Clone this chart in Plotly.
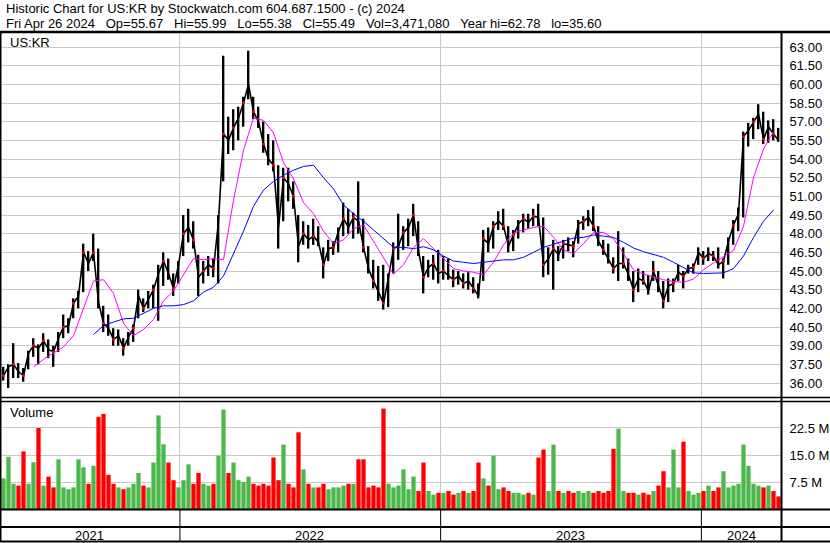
import pandas as pd
import plotly.graph_objects as go

# Weekly bars for US:KR (Apr 2021 - Apr 2024)
start = "2021-04-29"

high = [37.3, 37.5, 39.2, 37.6, 37.2, 38.6, 39.6, 39.1, 40.0, 39.5,
        39.0, 40.1, 41.5, 41.2, 42.8, 43.4, 47.2, 46.6, 48.0, 46.8,
        42.2, 41.5, 40.4, 40.3, 39.6, 40.1, 40.7, 43.5, 42.8, 43.4,
        43.9, 45.5, 46.5, 46.0, 44.8, 45.8, 49.5, 50.0, 49.0, 46.3,
        45.8, 46.2, 46.0, 49.5, 62.3, 57.4, 58.0, 58.2, 59.0, 62.7,
        59.0, 58.2, 57.0, 56.0, 55.5, 53.5, 53.3, 53.3, 52.2, 49.5,
        49.0, 48.7, 49.2, 48.6, 46.9, 47.5, 47.4, 48.5, 50.5, 50.0,
        49.7, 52.2, 49.2, 47.0, 45.9, 45.4, 45.5, 44.8, 47.3, 49.6,
        48.6, 49.2, 50.4, 49.0, 46.2, 45.9, 46.3, 46.7, 46.2, 46.0,
        45.1, 45.0, 44.8, 44.9, 44.5, 44.0, 48.3, 48.5, 49.0, 49.8,
        50.0, 48.6, 48.3, 49.1, 49.6, 49.6, 50.0, 50.4, 49.3, 46.9,
        47.5, 47.0, 47.5, 47.7, 47.4, 49.1, 49.4, 49.9, 50.2, 48.6,
        47.5, 47.2, 46.1, 48.2, 46.9, 46.0, 45.0, 45.2, 45.0, 44.7,
        45.8, 45.0, 44.2, 44.4, 44.4, 45.5, 45.0, 45.5, 45.6, 46.9,
        46.6, 46.9, 46.6, 46.9, 46.0, 47.7, 49.1, 50.1, 56.2, 56.9,
        57.3, 58.4, 57.8, 57.1, 57.2, 56.5]

low = [36.2, 35.6, 36.4, 36.4, 36.1, 37.1, 38.1, 37.5, 38.5, 38.0,
       37.3, 38.5, 39.6, 40.0, 41.2, 42.0, 43.3, 45.0, 45.8, 42.0,
       40.1, 39.8, 39.0, 39.0, 38.2, 39.0, 39.3, 41.2, 41.7, 42.0,
       42.0, 41.0, 43.8, 44.3, 43.0, 44.0, 46.2, 47.3, 46.8, 43.0,
       44.0, 44.6, 44.5, 44.0, 52.2, 54.4, 54.7, 55.5, 56.6, 58.8,
       57.2, 56.5, 54.5, 53.5, 53.0, 46.8, 49.0, 50.6, 50.0, 45.7,
       47.1, 46.8, 47.1, 47.0, 44.4, 45.8, 46.3, 46.5, 47.8, 48.0,
       47.6, 48.0, 46.5, 44.8, 43.6, 42.6, 41.9, 42.1, 44.8, 45.9,
       46.7, 47.0, 47.8, 46.2, 43.2, 44.5, 44.3, 44.0, 44.3, 44.3,
       43.7, 43.9, 43.6, 43.5, 43.2, 42.8, 44.2, 46.5, 46.8, 48.3,
       48.3, 46.5, 46.6, 47.6, 48.1, 48.4, 48.6, 48.6, 44.5, 44.7,
       43.5, 45.8, 46.0, 46.6, 46.1, 47.2, 48.3, 48.6, 48.2, 47.0,
       46.3, 45.6, 44.8, 44.2, 45.2, 44.2, 42.5, 43.3, 43.9, 43.1,
       44.2, 43.3, 42.0, 42.5, 43.3, 44.2, 43.6, 44.8, 44.8, 45.5,
       45.5, 45.8, 45.8, 45.2, 44.4, 45.5, 47.1, 48.2, 49.3, 55.0,
       55.6, 56.4, 55.2, 55.3, 55.5, 55.38]

close = [36.6, 37.3, 37.5, 36.9, 36.6, 38.4, 39.0, 38.8, 39.4, 38.7,
         38.5, 39.6, 40.5, 40.6, 42.4, 43.0, 46.5, 45.6, 46.5, 42.5,
         40.8, 40.4, 39.5, 39.8, 38.8, 39.7, 40.4, 43.0, 42.0, 42.8,
         43.5, 44.8, 45.8, 44.8, 43.6, 45.5, 48.0, 48.5, 47.5, 44.5,
         45.0, 45.5, 45.2, 49.0, 56.0, 55.5, 56.5, 57.3, 58.5, 60.0,
         57.8, 57.0, 55.2, 54.0, 53.5, 48.5, 52.5, 52.0, 51.0, 47.0,
         48.0, 47.5, 47.8, 47.3, 45.5, 46.8, 46.9, 48.2, 49.2, 48.5,
         49.3, 49.0, 46.9, 45.2, 44.2, 43.3, 42.4, 44.5, 46.8, 47.0,
         48.1, 48.5, 49.5, 46.6, 44.5, 45.3, 45.6, 44.8, 45.0, 44.6,
         44.3, 44.6, 44.0, 44.2, 43.6, 43.0, 47.6, 47.2, 48.6, 49.0,
         48.6, 47.0, 47.9, 48.8, 49.2, 48.9, 49.4, 49.3, 45.5, 46.0,
         46.8, 46.3, 47.2, 47.1, 47.0, 48.8, 49.0, 49.3, 48.6, 47.4,
         46.7, 46.0, 45.2, 45.6, 45.6, 44.7, 43.5, 44.4, 44.2, 43.4,
         45.0, 43.8, 42.6, 43.8, 44.0, 44.9, 44.6, 45.2, 45.3, 46.5,
         46.0, 46.4, 46.2, 45.5, 45.8, 47.4, 48.7, 49.6, 55.8, 56.3,
         57.0, 57.6, 55.6, 56.6, 56.0, 55.49]

# volume in millions of shares
volume = [8.5, 14.5, 7, 6.5, 16, 7, 13, 22.5, 6.5, 9,
          6, 13.8, 6, 5.5, 6, 13.8, 11.6, 7, 12, 25.6,
          26.4, 9.5, 7, 6, 5.5, 6, 7, 10, 6.5, 6,
          12.9, 26, 18, 12.9, 8, 6, 8, 12.4, 7, 10,
          7, 6.5, 7, 14.8, 27.6, 10, 12.9, 8, 7.5, 9,
          7, 6.5, 7, 6.5, 14.3, 8, 17.9, 7, 6, 21.3,
          11, 7, 6, 6, 7, 5.5, 6, 6, 6.5, 7,
          7, 13.8, 13.8, 6, 6.5, 6, 27.9, 7, 6, 6.5,
          11, 5.5, 9, 5, 12.9, 5, 4, 4.5, 4.5, 5,
          4, 4.5, 5, 4.5, 5, 12.9, 8.5, 6.5, 14.8, 5.5,
          6, 5, 4.5, 4.5, 4, 4.5, 4, 14.3, 16.5, 5,
          17.9, 5, 4.5, 5, 4.5, 5, 4.5, 5, 4.5, 5,
          4.5, 5, 16.7, 22.3, 5, 4.5, 4.5, 4, 4.5, 4,
          5, 6.5, 10.5, 6, 16.5, 6, 18.7, 5, 4, 4.5,
          5, 6.5, 5, 6, 10.5, 6, 6.5, 7, 17.9, 12,
          7, 6.5, 6, 6.5, 5, 3.5]

# moving averages read every second week (magenta from week 6, blue from week 18)
ma_fast = [37.3, 37.9, 38.4, 38.9, 39.8, 42.0, 44.2, 44.3, 43.2, 40.8,
           39.8, 40.3, 41.1, 42.6, 43.4, 44.7, 46.0, 45.9, 46.0, 45.9,
           50.7, 54.7, 57.3, 57.1, 56.1, 53.7, 52.4, 50.5, 49.6, 48.2,
           47.2, 47.5, 48.4, 48.7, 47.4, 46.1, 44.75, 45.5, 46.9, 47.6,
           46.8, 46.0, 45.2, 45.0, 44.9, 44.7, 45.7, 47.1, 48.05, 48.3,
           48.5, 48.6, 47.7, 46.7, 46.4, 47.2, 48.1, 48.1, 47.6, 46.4,
           45.1, 44.75, 44.5, 44.3, 44.15, 44.1, 44.35, 45.1, 45.65, 46.15,
           46.65, 48.6, 52.5, 54.8, 56.2]

ma_slow = [39.9, 40.6, 40.9, 41.15, 41.2, 41.6, 42.0, 42.2, 42.2, 42.3,
           42.6, 43.3, 43.7, 44.6, 46.4, 48.2, 50.2, 51.5, 52.2, 52.7,
           53.1, 53.4, 53.5, 52.5, 51.6, 50.3, 49.6, 49.0, 48.3, 47.6,
           46.9, 46.9, 46.8, 46.95, 46.7, 46.2, 45.8, 45.7, 45.6, 45.7,
           45.8, 45.9, 45.9, 46.1, 46.5, 46.9, 47.15, 47.4, 47.65, 47.7,
           47.9, 47.8, 47.7, 47.3, 46.85, 46.55, 46.3, 46.1, 45.7, 45.3,
           44.85, 44.8, 44.8, 44.85, 45.2, 46.2, 47.7, 49.0, 49.9]

price_ticks = [36.0, 37.5, 39.0, 40.5, 42.0, 43.5, 45.0, 46.5, 48.0, 49.5,
               51.0, 52.5, 54.0, 55.5, 57.0, 58.5, 60.0, 61.5, 63.0]
vol_ticks = [7.5, 15.0, 22.5]
vol_labels = ["7.5 M", "15.0 M", "22.5 M"]
years = ["2021", "2022", "2023", "2024"]
year_mids = ["2021-08-28", "2022-07-02", "2023-07-02", "2024-02-26"]
year_starts = ["2022-01-01", "2023-01-01", "2024-01-01"]

title = "Historic Chart for US:KR by Stockwatch.com 604.687.1500 - (c) 2024"
quote = ["Fri Apr 26 2024", "Op=55.67", "Hi=55.99", "Lo=55.38", "Cl=55.49",
         "Vol=3,471,080", "Year hi=62.78", "lo=35.60"]

W, H = 830, 543
FONT = "Liberation Sans, Arial, sans-serif"


def px(x):
    return x / W


def py(y):
    return 1 - y / H


dates = pd.date_range(start, periods=len(close), freq="7D")
day = pd.Timedelta(days=1)
x_range = [dates[0] - 3.5 * day, dates[-1] + 3.5 * day]
ms_day = 86400000

vol_colors = ["#4cb84c"]
for i in range(1, len(close)):
    vol_colors.append("#4cb84c" if close[i] >= close[i - 1] else "#ff0000")

fig = go.Figure()

# price: high-low bars joined by the close path, so it reads like the daily scribble
fig.add_trace(go.Bar(x=dates, base=low, y=[h - l for h, l in zip(high, low)],
                     width=2.4 * ms_day, marker=dict(color="black", line_width=0),
                     xaxis="x", yaxis="y"))
fig.add_trace(go.Scatter(x=dates, y=close, mode="lines",
                         line=dict(color="black", width=1.6),
                         xaxis="x", yaxis="y"))
fig.add_trace(go.Scatter(x=dates[::2], y=close[::2], mode="markers",
                         marker=dict(color="red", size=2.5, symbol="square"),
                         xaxis="x", yaxis="y"))
fig.add_trace(go.Scatter(x=dates[6::2], y=ma_fast, mode="lines",
                         line=dict(color="#ff00ff", width=1), xaxis="x", yaxis="y"))
fig.add_trace(go.Scatter(x=dates[18::2], y=ma_slow, mode="lines",
                         line=dict(color="#0000ff", width=1), xaxis="x", yaxis="y"))

# volume
fig.add_trace(go.Bar(x=dates, y=volume, width=6.0 * ms_day,
                     marker=dict(color=vol_colors, line_width=0),
                     xaxis="x", yaxis="y2"))

grid = "#c8c8c8"
tickfont = dict(family=FONT, size=13, color="black")

fig.update_layout(
    width=W, height=H, margin=dict(l=0, r=0, t=0, b=0),
    paper_bgcolor="white", plot_bgcolor="white", showlegend=False,
    xaxis=dict(type="date", domain=[px(1), px(781)], range=x_range,
               tickvals=year_starts, showticklabels=False, ticks="",
               showgrid=True, gridcolor=grid, gridwidth=1, zeroline=False,
               anchor="y2"),
    yaxis=dict(domain=[py(397), py(32)], range=[34.875, 64.205], side="right",
               anchor="x", tickvals=price_ticks, tickformat=".2f",
               ticks="outside", ticklen=5, tickcolor="rgba(0,0,0,0)",
               showgrid=True, gridcolor=grid, zeroline=False, tickfont=tickfont),
    yaxis2=dict(domain=[py(509), py(402)], range=[0, 29.72], side="right",
                anchor="x", tickvals=vol_ticks, ticktext=vol_labels,
                ticks="outside", ticklen=5, tickcolor="rgba(0,0,0,0)",
                showgrid=True, gridcolor=grid, zeroline=False, tickfont=tickfont),
)


# frame lines
def hline(y, w=1.5):
    fig.add_shape(type="line", xref="paper", yref="paper", x0=0, x1=1,
                  y0=py(y), y1=py(y), line=dict(color="black", width=w))


def vline(x, y0, y1, w=1.5):
    fig.add_shape(type="line", xref="paper", yref="paper", x0=px(x), x1=px(x),
                  y0=py(y0), y1=py(y1), line=dict(color="black", width=w))


hline(32, 2.5)
hline(397.5)
hline(401.5)
hline(509.5, 2)
hline(527, 2)
hline(541.5, 2)
vline(0.5, 32, 542, 2)
vline(781.5, 32, 542, 2)

for d in year_starts:
    fig.add_shape(type="line", xref="x", yref="paper", x0=d, x1=d,
                  y0=py(510), y1=py(541), line=dict(color="black", width=1))

for label, mid in zip(years, year_mids):
    fig.add_annotation(x=mid, y=py(535), xref="x", yref="paper", text=label,
                       showarrow=False, font=dict(family=FONT, size=13, color="black"),
                       xanchor="center", yanchor="middle")

# header and panel labels
gap = "\u00a0" * 3
texts = [
    (4, 9, title),
    (4, 23, gap.join(quote)),
    (8, 42, "US:KR"),
    (8, 413, "Volume"),
]
for x, y, t in texts:
    fig.add_annotation(x=px(x), y=py(y), xref="paper", yref="paper", text=t,
                       showarrow=False, xanchor="left", yanchor="middle",
                       font=dict(family=FONT, size=13, color="black"))

fig.write_html("out.html", config={"displayModeBar": False},
               post_script="document.body.style.margin='0';"
                           "document.body.style.overflow='hidden';")
